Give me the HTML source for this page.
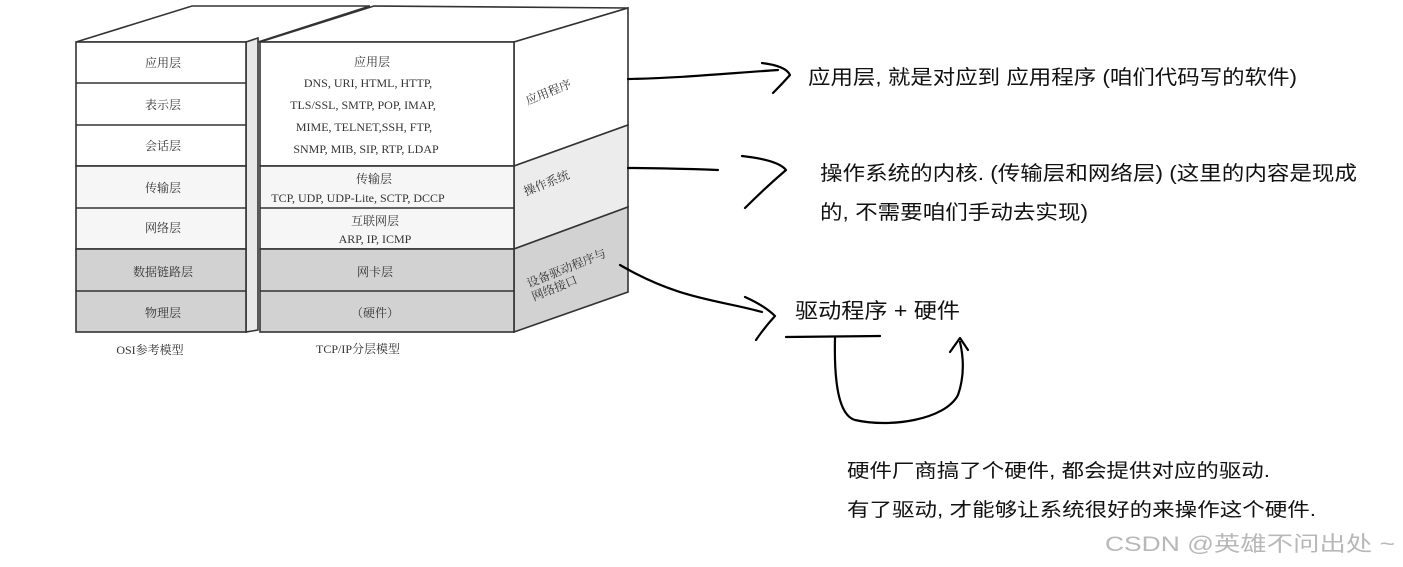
<!DOCTYPE html>
<html><head><meta charset="utf-8"><style>
html,body{margin:0;padding:0;background:#fff;}
svg{display:block;}
.s{font-family:"Liberation Serif","Noto Serif CJK SC",serif;fill:#333;}
.h{font-family:"Liberation Sans","Noto Sans CJK SC",sans-serif;fill:#111;}
</style></head><body>
<svg width="1403" height="567" viewBox="0 0 1403 567" xmlns="http://www.w3.org/2000/svg">
<rect width="1403" height="567" fill="#fff"/>
<g stroke="#333" stroke-width="1.6" fill="#fff">
<polygon points="76,42 192,6 370,6 258,42"/>
<polygon points="246,42 258,38 258,330 246,332" fill="#e8e8e8"/>
<rect x="76" y="42" width="170" height="124" fill="#fff"/>
<rect x="76" y="166" width="170" height="83" fill="#f6f6f6"/>
<rect x="76" y="249" width="170" height="83" fill="#d2d2d2"/>
<line x1="76" y1="83" x2="246" y2="83"/>
<line x1="76" y1="125" x2="246" y2="125"/>
<line x1="76" y1="208" x2="246" y2="208"/>
<line x1="76" y1="291" x2="246" y2="291"/>
<polygon points="260,42 374,6 628,8 514,42"/>
<polygon points="514,42 628,8 628,125 514,166" fill="#fff"/>
<polygon points="514,166 628,125 628,207 514,249" fill="#ececec"/>
<polygon points="514,249 628,207 628,292 514,332" fill="#d2d2d2"/>
<rect x="260" y="42" width="254" height="124" fill="#fff"/>
<rect x="260" y="166" width="254" height="83" fill="#f6f6f6"/>
<rect x="260" y="249" width="254" height="83" fill="#d2d2d2"/>
<line x1="260" y1="208" x2="514" y2="208"/>
<line x1="260" y1="291" x2="514" y2="291"/>
</g>
<g class="s" font-size="12" text-anchor="middle">
<text x="163" y="67">应用层</text>
<text x="163" y="109">表示层</text>
<text x="163" y="150">会话层</text>
<text x="163" y="192">传输层</text>
<text x="163" y="232">网络层</text>
<text x="163" y="276">数据链路层</text>
<text x="163" y="317">物理层</text>
<text x="150" y="354">OSI参考模型</text>
<text x="372" y="66">应用层</text>
<text x="368" y="87">DNS, URI, HTML, HTTP,</text>
<text x="363" y="109">TLS/SSL, SMTP, POP, IMAP,</text>
<text x="364" y="131">MIME, TELNET,SSH, FTP,</text>
<text x="366" y="153">SNMP, MIB, SIP, RTP, LDAP</text>
<text x="374" y="183">传输层</text>
<text x="358" y="202">TCP, UDP, UDP-Lite, SCTP, DCCP</text>
<text x="375" y="225">互联网层</text>
<text x="375" y="243">ARP, IP, ICMP</text>
<text x="375" y="276">网卡层</text>
<text x="375" y="317">（硬件）</text>
<text x="358" y="353">TCP/IP分层模型</text>
<text transform="translate(550,96) rotate(-22)">应用程序</text>
<text transform="translate(548,187) rotate(-22)">操作系统</text>
<text transform="translate(568,272) rotate(-22)">设备驱动程序与</text>
<text transform="translate(556,292) rotate(-22)">网络接口</text>
</g>
<g fill="none" stroke="#000" stroke-width="2.2" stroke-linecap="round" stroke-linejoin="round">
<path d="M628,79 C680,78 720,74 778,70"/>
<path d="M762,63 Q786,66 790,75 Q782,84 773,93"/>
<path d="M628,168 C660,168 690,169 718,170"/>
<path d="M742,156 Q778,160 786,170 Q765,188 745,208"/>
<path d="M620,265 C680,300 720,300 762,312"/>
<path d="M745,297 Q765,306 775,316 Q764,328 756,340"/>
<path d="M786,337 L880,336"/>
<path d="M835,338 C834,380 838,415 855,420 C890,428 945,420 958,395 C965,375 963,355 960,342"/>
<path d="M950,352 L960,338 L968,350"/>
</g>
<g class="h">
<text x="808" y="84" font-size="20" textLength="489" lengthAdjust="spacingAndGlyphs">应用层, 就是对应到 应用程序 (咱们代码写的软件)</text>
<text x="820" y="180" font-size="20" textLength="537" lengthAdjust="spacingAndGlyphs">操作系统的内核. (传输层和网络层) (这里的内容是现成</text>
<text x="820" y="219" font-size="20" textLength="268" lengthAdjust="spacingAndGlyphs">的, 不需要咱们手动去实现)</text>
<text x="795" y="318" font-size="21" textLength="165" lengthAdjust="spacingAndGlyphs">驱动程序 + 硬件</text>
<text x="847" y="477" font-size="19" textLength="423" lengthAdjust="spacingAndGlyphs">硬件厂商搞了个硬件, 都会提供对应的驱动.</text>
<text x="847" y="516" font-size="19" textLength="469" lengthAdjust="spacingAndGlyphs">有了驱动, 才能够让系统很好的来操作这个硬件.</text>
</g>
<text x="1105" y="551" font-family="'Liberation Sans','Noto Sans CJK SC',sans-serif" font-size="21" fill="#b8b8b8" textLength="290" lengthAdjust="spacingAndGlyphs">CSDN @英雄不问出处 ~</text>
</svg>
</body></html>
